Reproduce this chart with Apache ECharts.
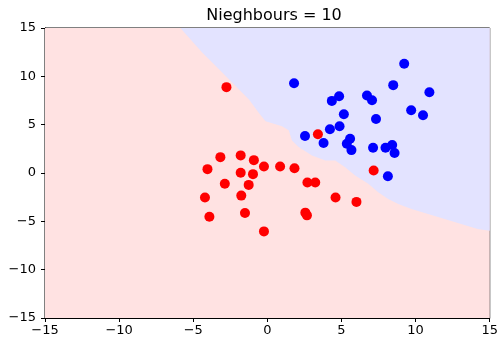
<!DOCTYPE html>
<html><head><meta charset="utf-8">
<script src="https://cdn.jsdelivr.net/npm/echarts@6/dist/echarts.min.js"></script>
<style>html,body{margin:0;padding:0;background:#fff}#c{width:501px;height:337px}</style>
</head><body><div id="c"></div>
<script>
var titleText = 'Nieghbours = 10';
var axisTicks = [-15, -10, -5, 0, 5, 10, 15];
var redPoints = [
  [-2.76, 8.88], [3.41, 4.00], [7.17, 0.26], [-3.17, 1.64], [-1.80, 1.82], [-0.91, 1.33],
  [-4.04, 0.40], [-0.23, 0.67], [0.86, 0.67], [1.83, 0.50], [-1.80, 0.02], [-0.97, -0.12],
  [-2.87, -1.12], [-1.26, -1.23], [2.70, -0.99], [3.23, -0.99], [-4.21, -2.54], [-1.76, -2.34],
  [4.60, -2.54], [6.01, -2.99], [-3.91, -4.52], [-1.51, -4.13], [2.56, -4.10], [2.67, -4.38],
  [-0.23, -6.04]
];
var bluePoints = [
  [1.80, 9.29], [9.23, 11.30], [8.49, 9.09], [10.93, 8.36], [4.84, 7.94], [4.35, 7.46],
  [6.72, 8.01], [7.06, 7.53], [5.16, 6.07], [7.33, 5.59], [9.70, 6.49], [10.50, 5.97],
  [4.22, 4.52], [4.87, 4.83], [2.54, 3.82], [3.79, 3.10], [5.58, 3.55], [5.36, 3.03],
  [5.67, 2.37], [7.13, 2.62], [7.97, 2.62], [8.42, 2.89], [8.58, 2.06], [8.13, -0.33]
];
// decision boundary, from top edge to right edge
var boundary = [
  [-5.87, 15], [-4.38, 12.44], [-3.26, 10.72], [-2.13, 8.98], [-1.24, 7.60], [-0.57, 6.21],
  [-0.12, 5.35], [0.99, 4.83], [1.44, 4.41], [1.66, 3.37], [2.11, 2.68], [3.01, 1.82],
  [3.91, 1.30], [4.58, 1.30], [5.25, 0.60], [5.92, -0.26], [6.81, -1.12], [7.48, -1.99],
  [8.15, -2.68], [8.83, -3.20], [9.72, -3.72], [10.84, -4.24], [11.96, -4.76], [13.07, -5.28],
  [14.19, -5.79], [15, -5.97]
];
var blueCorner = [15, 15];
var fullBox = [[-15, -15], [15, -15], [15, 15], [-15, 15]];

var chart = echarts.init(document.getElementById('c'), null, {renderer: 'canvas'});
var fmt = function (v) { return String(v).replace('-', '\u2212'); };
function axis(margin) {
  return {
    type: 'value', min: -15, max: 15, interval: 5,
    splitLine: {show: false},
    axisLine: {show: true, onZero: false, lineStyle: {color: '#000', width: 1}},
    axisTick: {show: true, inside: false, length: 4, lineStyle: {color: '#000'}},
    axisLabel: {color: '#000', fontSize: 13, fontFamily: 'DejaVu Sans', formatter: fmt, margin: margin}
  };
}
function polyRender(pts, color) {
  return function (params, api) {
    return {
      type: 'polygon',
      shape: {points: pts.map(function (p) { return api.coord(p); })},
      style: {fill: color}
    };
  };
}
chart.setOption({
  animation: false,
  backgroundColor: '#fff',
  title: {
    text: titleText, left: 269, top: 3, textAlign: 'center',
    textStyle: {fontFamily: 'DejaVu Sans', fontSize: 16, fontWeight: 'normal', color: '#000'}
  },
  grid: {left: 45, right: 9, top: 28, bottom: 19, show: true, borderColor: '#000', borderWidth: 1, backgroundColor: 'transparent'},
  xAxis: axis(6),
  yAxis: axis(9),
  series: [
    {type: 'custom', data: [[0, 0]], z: 1, silent: true, renderItem: polyRender(fullBox, '#FFE2E2')},
    {type: 'custom', data: [[0, 0]], z: 2, silent: true, renderItem: polyRender(boundary.concat([blueCorner]), '#E3E3FF')},
    {type: 'scatter', data: redPoints, symbolSize: 10, z: 5, itemStyle: {color: '#FF0000', opacity: 1}},
    {type: 'scatter', data: bluePoints, symbolSize: 10, z: 5, itemStyle: {color: '#0000FF', opacity: 1}}
  ]
});
</script></body></html>
